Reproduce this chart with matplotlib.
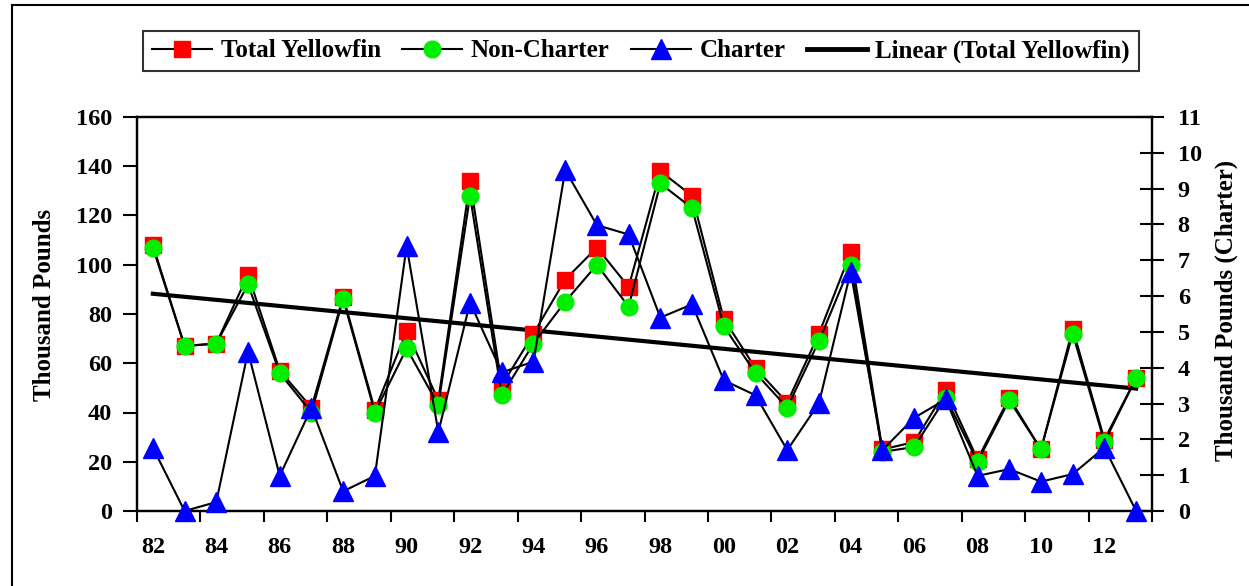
import numpy as np
import matplotlib
matplotlib.use("Agg")
import matplotlib.pyplot as plt
from matplotlib.lines import Line2D
from matplotlib.patches import Rectangle

years = ["82", "83", "84", "85", "86", "87", "88", "89", "90", "91", "92", "93",
         "94", "95", "96", "97", "98", "99", "00", "01", "02", "03", "04", "05",
         "06", "07", "08", "09", "10", "11", "12", "13"]
total_yellowfin = [108, 67, 68, 96, 57, 42, 87, 41, 73, 45, 134, 51,
                   72, 94, 107, 91, 138, 128, 78, 58, 44, 72, 105, 25,
                   28, 49, 21, 46, 25, 74, 29, 54]
non_charter = [107, 67, 68, 92, 56, 40, 86, 40, 66, 43, 128, 47,
               68, 85, 100, 83, 133, 123, 75, 56, 42, 69, 100, 24,
               26, 46, 20, 45, 25, 72, 28, 54]
charter = [1.77, 0.0, 0.25, 4.45, 0.98, 2.88, 0.55, 0.98, 7.4, 2.2, 5.82, 3.87,
           4.17, 9.52, 7.98, 7.72, 5.4, 5.77, 3.65, 3.23, 1.7, 3.01, 6.68, 1.7,
           2.6, 3.12, 0.98, 1.17, 0.82, 1.03, 1.77, 0.0]

plt.rcParams['font.family'] = ['Liberation Serif', 'DejaVu Serif']
plt.rcParams['font.weight'] = 'bold'
FS_TICK = 17.5
FS_LAB = 18
FS_LEG = 18

fig = plt.figure(figsize=(12.49, 5.86), dpi=100)
ax = fig.add_axes([137/1249, 1 - 511/586, (1152-137)/1249, (511-117)/586])
ax2 = ax.twinx()

x = np.arange(len(years))
lw = 1.5
ms = 12
ax.plot(x, total_yellowfin, color='black', lw=lw, marker='s', ms=ms,
        mfc='#ff0000', mec='#ff0000', zorder=3)
ax.plot(x, non_charter, color='black', lw=lw, marker='o', ms=ms,
        mfc='#00ee00', mec='#00ee00', zorder=4)
coef = np.polyfit(x, total_yellowfin, 1)
ax.plot(x, np.polyval(coef, x), color='black', lw=3, zorder=2)
ax2.plot(x, charter, color='black', lw=lw, marker='^', ms=ms + 2,
         mfc='#0000ff', mec='#0000ff', zorder=5, clip_on=False)
for a in (ax, ax2):
    a.set_xlim(-0.5, len(years) - 0.5)
ax.set_ylim(0, 160)
ax2.set_ylim(0, 11)
ax.set_yticks(np.arange(0, 161, 20))
ax2.set_yticks(np.arange(0, 12, 1))

ax.set_xticks(x[::2])
ax.set_xticklabels(years[::2])
ax.set_xticks(np.arange(-0.5, len(years), 2), minor=True)
ax.tick_params(axis='x', which='major', length=0, pad=19, labelsize=FS_TICK)
ax.tick_params(axis='x', which='minor', length=8, width=1.5, direction='out')
ax.tick_params(axis='y', length=10, width=1.5, direction='out', pad=8, labelsize=FS_TICK)
ax2.tick_params(axis='y', length=17, width=1.5, direction='inout', pad=10, labelsize=FS_TICK)
for a in (ax, ax2):
    for s in a.spines.values():
        s.set_linewidth(1.6)
    for lab in a.get_xticklabels() + a.get_yticklabels():
        lab.set_fontweight('bold')

fig.text(45/1249, 1 - 305/586, "Thousand Pounds", rotation=90, ha='center', va='center',
         fontsize=FS_LAB, fontweight='bold')
fig.text(1226/1249, 1 - 310/586, "Thousand Pounds (Charter)", rotation=90, ha='center',
         va='center', fontsize=FS_LAB, fontweight='bold')

handles = [
    Line2D([], [], color='black', lw=lw, marker='s', ms=ms, mfc='#ff0000', mec='#ff0000'),
    Line2D([], [], color='black', lw=lw, marker='o', ms=ms, mfc='#00ee00', mec='#00ee00'),
    Line2D([], [], color='black', lw=lw, marker='^', ms=ms + 2, mfc='#0000ff', mec='#0000ff'),
    Line2D([], [], color='black', lw=3.5),
]
labels = ["Total Yellowfin", "Non-Charter", "Charter", "Linear (Total Yellowfin)"]
leg = fig.legend(handles, labels, loc='center', bbox_to_anchor=(641/1249, 1 - 51/586),
                 ncol=4, frameon=True, fancybox=False, edgecolor='black',
                 prop={'size': FS_LEG, 'weight': 'bold'}, handlelength=2.4,
                 handletextpad=0.35, columnspacing=0.85, borderpad=0.35,
                 borderaxespad=0)
leg.get_frame().set_linewidth(1.5)

fig.patches.append(Rectangle((12/1249, -0.1), 1.2, 1 - 5/586 + 0.1,
                             transform=fig.transFigure, fill=False,
                             edgecolor='black', lw=1.5))

fig.savefig("out.png", dpi=100)
